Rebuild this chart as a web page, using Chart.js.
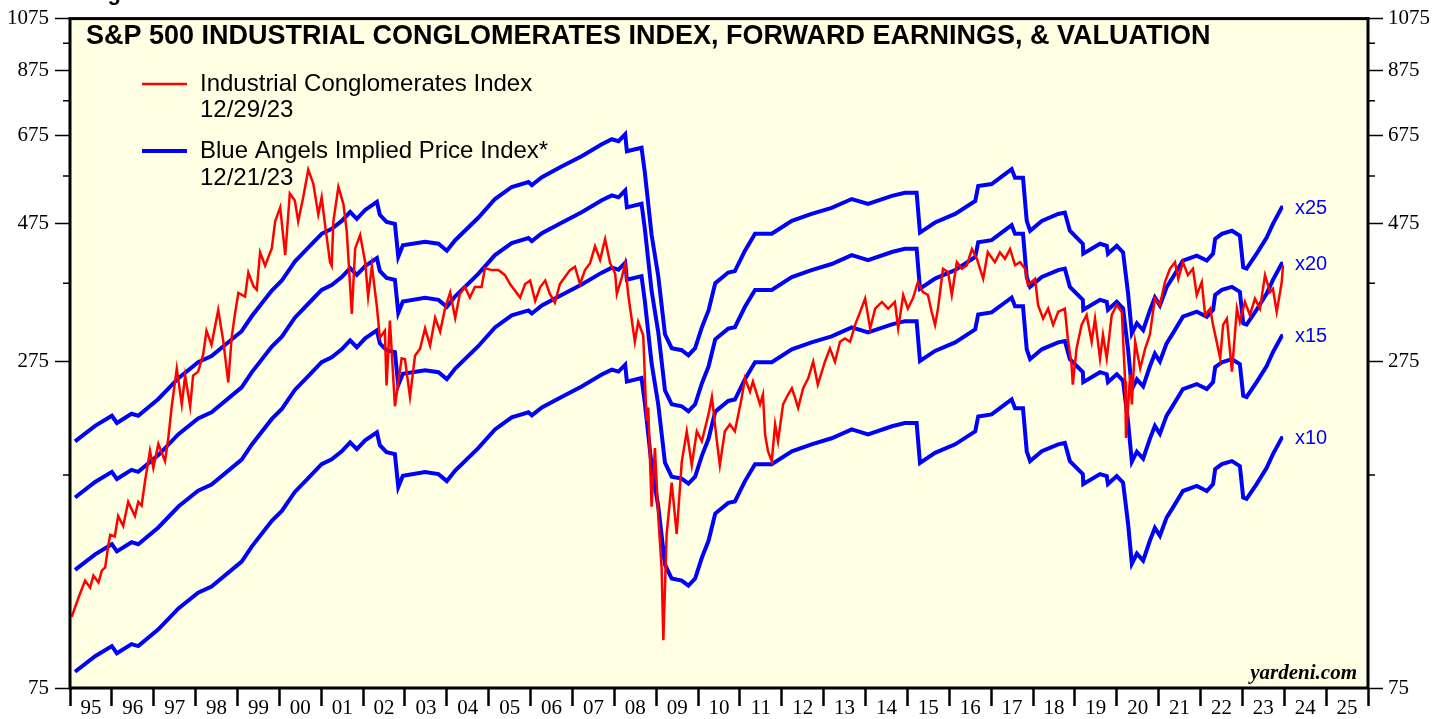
<!DOCTYPE html>
<html>
<head>
<meta charset="utf-8">
<title>S&amp;P 500 Industrial Conglomerates Index</title>
<script src="https://cdn.jsdelivr.net/npm/chart.js@4.4.0/dist/chart.umd.min.js"></script>
<style>
  html, body { margin: 0; padding: 0; background: #fff; }
  #wrap { width: 1448px; height: 719px; position: relative; }
</style>
</head>
<body>
<div id="wrap"><canvas id="chart"></canvas></div>
<script>
// Industrial Conglomerates Index (weekly)
const indexYears = [
  1995.04, 1995.20, 1995.36, 1995.48, 1995.56, 1995.68, 1995.76, 1995.84, 1995.91, 1995.96,
  1996.07, 1996.15, 1996.27, 1996.39, 1996.55, 1996.63, 1996.71, 1996.79, 1996.91, 1996.99,
  1997.11, 1997.27, 1997.35, 1997.43, 1997.55, 1997.67, 1997.75, 1997.87, 1997.94,
  1998.06, 1998.18, 1998.26, 1998.38, 1998.54, 1998.66, 1998.78, 1998.86, 1998.94,
  1999.02, 1999.18, 1999.26, 1999.38, 1999.46, 1999.54, 1999.66, 1999.82, 1999.90,
  2000.02, 2000.14, 2000.25, 2000.37, 2000.45, 2000.57, 2000.69, 2000.81, 2000.93,
  2001.01, 2001.09, 2001.21, 2001.25, 2001.29, 2001.41, 2001.53, 2001.61, 2001.73, 2001.81, 2001.93,
  2002.05, 2002.12, 2002.21, 2002.33, 2002.40, 2002.52, 2002.56, 2002.64, 2002.76, 2002.92,
  2003.00, 2003.12, 2003.24, 2003.36, 2003.48, 2003.60, 2003.72, 2003.84, 2003.96,
  2004.08, 2004.20, 2004.31, 2004.43, 2004.55, 2004.67, 2004.83, 2004.91,
  2005.07, 2005.23, 2005.39, 2005.51, 2005.63, 2005.75, 2005.87, 2005.99,
  2006.11, 2006.23, 2006.35, 2006.46, 2006.58, 2006.70, 2006.82, 2006.94,
  2007.06, 2007.18, 2007.30, 2007.42, 2007.54, 2007.66, 2007.78, 2007.90,
  2008.02, 2008.06, 2008.18, 2008.26, 2008.33, 2008.49, 2008.57, 2008.69, 2008.77, 2008.81, 2008.89, 2008.97,
  2009.05, 2009.13, 2009.17, 2009.25, 2009.37, 2009.49, 2009.61, 2009.73, 2009.85, 2009.97,
  2010.09, 2010.25, 2010.33, 2010.45, 2010.52, 2010.64, 2010.76, 2010.88,
  2011.04, 2011.12, 2011.24, 2011.31, 2011.48, 2011.55, 2011.60, 2011.67, 2011.76, 2011.84, 2011.91,
  2012.03, 2012.15, 2012.24, 2012.32, 2012.39, 2012.51, 2012.63, 2012.75, 2012.86,
  2013.03, 2013.15, 2013.27, 2013.39, 2013.51, 2013.63, 2013.75, 2013.87, 2013.99,
  2014.11, 2014.23, 2014.39, 2014.54, 2014.70, 2014.78, 2014.90,
  2015.01, 2015.13, 2015.25, 2015.37, 2015.49, 2015.58, 2015.66, 2015.73, 2015.85, 2015.97,
  2016.06, 2016.18, 2016.30, 2016.42, 2016.54, 2016.66, 2016.81, 2016.92,
  2017.09, 2017.21, 2017.33, 2017.45, 2017.57, 2017.69, 2017.81, 2017.88,
  2018.05, 2018.12, 2018.24, 2018.36, 2018.48, 2018.60, 2018.76, 2018.83, 2018.92, 2018.95,
  2019.04, 2019.16, 2019.28, 2019.40, 2019.48, 2019.60, 2019.67, 2019.76, 2019.88,
  2020.00, 2020.12, 2020.20, 2020.22, 2020.32, 2020.36, 2020.44, 2020.56, 2020.68, 2020.79, 2020.91,
  2021.03, 2021.15, 2021.27, 2021.39, 2021.47, 2021.58, 2021.70, 2021.82, 2021.91,
  2022.03, 2022.11, 2022.23, 2022.30, 2022.47, 2022.54, 2022.63, 2022.75, 2022.87, 2022.94,
  2023.06, 2023.18, 2023.30, 2023.42, 2023.54, 2023.66, 2023.73, 2023.82, 2023.94, 2023.97
];
const indexLevels = [
  99.5, 107.3, 115.0, 111.8, 117.3, 114.1, 119.6, 121.2, 131.6, 137.9,
  137.0, 148.7, 142.9, 157.2, 148.7, 157.2, 154.9, 170.4, 192.7, 180.0,
  198.0, 184.9, 203.5, 230.0, 267.1, 231.7, 259.9, 229.8, 259.9,
  264.0, 282.4, 310.5, 293.8, 337.4, 298.4, 253.0, 302.0, 332.1,
  360.9, 355.8, 391.4, 371.0, 365.6, 424.4, 402.2, 431.2, 479.8,
  507.2, 419.4, 536.1, 521.4, 479.8, 528.1, 589.4, 557.7, 493.4,
  528.1, 474.2, 408.0, 402.2, 479.8, 550.3, 514.1, 461.3, 332.1, 430.5, 454.7,
  408.0, 355.8, 402.2, 341.4, 302.0, 310.5, 249.8, 323.4, 230.0, 278.4,
  277.3, 238.7, 281.3, 289.1, 313.5, 292.9, 326.9, 309.3, 340.1,
  361.6, 326.9, 359.5, 369.6, 354.4, 369.6, 369.6, 398.4,
  395.3, 395.3, 387.5, 374.0, 364.2, 354.4, 374.0, 379.3,
  349.7, 369.6, 379.3, 359.5, 347.2, 374.0, 384.5, 395.3,
  400.6, 374.0, 395.3, 406.3, 434.6, 411.7, 446.9, 406.3,
  389.8, 359.5, 384.5, 406.3, 359.5, 297.3, 321.8, 305.0, 216.9, 228.9, 154.3, 194.7,
  148.2, 120.7, 90.7, 138.5, 169.7, 138.5, 184.2, 208.2, 182.0, 208.2,
  200.1, 222.9, 238.7, 200.1, 182.0, 208.2, 214.0, 208.2,
  237.5, 257.1, 243.9, 253.7, 231.7, 241.0, 205.7, 192.4, 184.9, 214.0, 200.1,
  231.7, 241.0, 247.1, 237.5, 228.3, 247.1, 257.1, 274.6, 250.7,
  274.6, 289.5, 274.6, 297.3, 301.2, 297.3, 317.9, 334.7, 352.9,
  313.4, 339.2, 348.3, 339.2, 348.3, 313.4, 358.0,
  339.2, 352.9, 377.0, 362.3, 358.0, 334.7, 317.9, 339.2, 397.4, 392.2,
  358.0, 408.0, 397.4, 403.2, 430.0, 413.3, 381.9, 424.4,
  408.0, 424.4, 413.3, 430.0, 403.2, 408.0, 397.4, 372.5,
  381.9, 344.1, 326.0, 339.2, 317.9, 334.7, 339.2, 301.2, 271.4, 250.7,
  289.5, 317.9, 330.8, 297.3, 326.0, 278.3, 305.6, 278.3, 330.8,
  344.1, 334.7, 253.7, 202.8, 260.9, 231.7, 297.3, 267.5, 289.5, 305.6, 352.9,
  344.1, 377.0, 397.4, 408.0, 381.9, 408.0, 387.5, 397.4, 358.0,
  377.0, 330.8, 339.2, 317.9, 278.3, 317.9, 326.0, 264.0, 339.2, 321.8,
  348.3, 330.8, 352.9, 339.2, 387.5, 362.3, 367.0, 334.7, 377.0, 402.7
];

// Forward earnings behind the Blue Angels lines (the x10 line divided by 10)
const earnYears = [
  1995.12, 1995.60, 1996.00, 1996.12, 1996.47, 1996.63, 1997.11, 1997.59, 1998.06, 1998.38,
  1999.10, 1999.34, 1999.82, 2000.06, 2000.37, 2000.69, 2001.01, 2001.25, 2001.49, 2001.69,
  2001.85, 2002.05, 2002.33, 2002.40, 2002.56, 2002.76, 2002.84, 2002.95, 2003.48, 2003.80,
  2004.00, 2004.20, 2004.75, 2005.15, 2005.55, 2005.95, 2006.03, 2006.27, 2006.74, 2007.22,
  2007.70, 2007.94, 2008.10, 2008.26, 2008.30, 2008.65, 2008.73, 2008.89, 2009.05, 2009.21,
  2009.37, 2009.61, 2009.77, 2009.93, 2010.09, 2010.25, 2010.41, 2010.72, 2010.88, 2011.12,
  2011.36, 2011.76, 2012.24, 2012.71, 2013.19, 2013.67, 2014.06, 2014.63, 2014.94, 2015.22,
  2015.30, 2015.66, 2016.14, 2016.62, 2016.69, 2017.01, 2017.33, 2017.49, 2017.57, 2017.76,
  2017.85, 2017.93, 2018.21, 2018.60, 2018.76, 2018.88, 2019.19, 2019.20, 2019.60, 2019.76,
  2019.79, 2020.00, 2020.15, 2020.27, 2020.36, 2020.48, 2020.63, 2020.79, 2020.91, 2021.03,
  2021.19, 2021.34, 2021.58, 2021.91, 2022.15, 2022.30, 2022.35, 2022.51, 2022.75, 2022.94,
  2023.02, 2023.10, 2023.34, 2023.58, 2023.73, 2023.94, 2023.97
];
const fwdEarnings = [
  8.00, 8.51, 8.86, 8.61, 8.93, 8.86, 9.47, 10.29, 10.96, 11.23,
  12.40, 13.16, 14.58, 15.17, 16.36, 17.29, 18.27, 18.63, 19.23, 19.93,
  19.39, 20.09, 20.74, 19.70, 19.16, 19.01, 16.68, 17.45, 17.70, 17.56,
  17.08, 17.81, 19.47, 20.98, 22.01, 22.45, 22.18, 22.89, 23.87, 24.88,
  26.09, 26.61, 26.40, 27.14, 25.37, 25.73, 23.26, 18.20, 15.43, 12.25,
  11.59, 11.50, 11.27, 11.59, 12.59, 13.47, 15.01, 15.66, 15.75, 17.08,
  18.27, 18.27, 19.23, 19.77, 20.25, 20.98, 20.57, 21.24, 21.51, 21.51,
  18.36, 19.11, 19.77, 20.82, 22.09, 22.27, 23.17, 23.63, 22.83, 22.83,
  19.23, 18.49, 19.23, 19.77, 19.88, 18.49, 17.56, 16.88, 17.56, 17.42,
  16.88, 17.42, 16.97, 14.41, 12.30, 12.80, 12.45, 13.47, 14.18, 13.74,
  14.77, 15.37, 16.42, 16.75, 16.42, 16.88, 17.91, 18.27, 18.49, 18.13,
  15.99, 15.91, 16.88, 18.00, 19.01, 20.28, 20.30
];
const multiples = [25, 20, 15, 10];

const yearLabels = ['95', '96', '97', '98', '99', '00', '01', '02', '03', '04', '05', '06', '07',
  '08', '09', '10', '11', '12', '13', '14', '15', '16', '17', '18', '19', '20', '21', '22', '23', '24', '25'];
const yTickValues = [75, 175, 275, 375, 475, 575, 675, 775, 875, 975, 1075];
const yLabelValues = [75, 275, 475, 675, 875, 1075];

const xTickValues = [];
for (let y = 1995; y <= 2026; y += 0.5) xTickValues.push(y);

const SANS = "'Liberation Sans', Arial, sans-serif";
const SERIF = "'Liberation Serif', 'Times New Roman', serif";

const datasets = [
  {
    label: 'Industrial Conglomerates Index',
    data: indexYears.map((t, i) => ({ x: t, y: indexLevels[i] })),
    borderColor: '#ff0000',
    borderWidth: 2.5,
    pointRadius: 0,
    tension: 0,
  },
];
multiples.forEach((m) => {
  datasets.push({
    label: 'x' + m,
    data: earnYears.map((t, i) => ({ x: t, y: fwdEarnings[i] * m })),
    borderColor: '#0000ff',
    borderWidth: 4,
    pointRadius: 0,
    tension: 0,
  });
});

const isMajorY = (v) => yLabelValues.includes(v);

function yAxis(pos) {
  return {
    type: 'logarithmic',
    position: pos,
    min: 75,
    max: 1075,
    afterBuildTicks: (s) => { s.ticks = yTickValues.map((v) => ({ value: v })); },
    afterFit: (s) => { s.width = pos === 'left' ? 70 : 80; },
    border: { display: false },
    grid: {
      drawOnChartArea: false,
      tickLength: 15,
      tickWidth: 1.5,
      tickColor: (c) => (c.tick && isMajorY(c.tick.value) ? '#000' : 'rgba(0,0,0,0)'),
    },
    ticks: {
      autoSkip: false,
      padding: pos === 'left' ? 6 : 5,
      color: '#000',
      font: { family: SERIF, size: 21 },
      callback: (v) => (isMajorY(v) ? String(v) : ''),
    },
  };
}

const decorations = {
  id: 'decorations',
  beforeDraw(chart) {
    const { ctx, chartArea: a } = chart;
    ctx.save();
    ctx.fillStyle = '#ffffe3';
    ctx.fillRect(a.left, a.top, a.right - a.left, a.bottom - a.top);
    ctx.restore();
  },
  afterDraw(chart) {
    const { ctx, chartArea: a, scales } = chart;
    ctx.save();

    // plot frame
    ctx.strokeStyle = '#000';
    ctx.lineWidth = 3;
    ctx.strokeRect(a.left, a.top, a.right - a.left, a.bottom - a.top);

    // minor y ticks (shorter than the labelled ones)
    ctx.lineWidth = 1.5;
    yTickValues.filter((v) => !isMajorY(v)).forEach((v) => {
      const py = scales.y.getPixelForValue(v);
      ctx.beginPath();
      ctx.moveTo(a.left - 7, py);
      ctx.lineTo(a.left, py);
      ctx.moveTo(a.right, py);
      ctx.lineTo(a.right + 7, py);
      ctx.stroke();
    });

    // cut-off figure caption at the very top
    ctx.fillStyle = '#000';
    ctx.font = 'bold 22px ' + SANS;
    ctx.textAlign = 'left';
    ctx.textBaseline = 'alphabetic';
    ctx.fillText('Figure 1.', 88, 0);

    // title
    ctx.font = 'bold 27px ' + SANS;
    ctx.textBaseline = 'middle';
    ctx.fillText('S&P 500 INDUSTRIAL CONGLOMERATES INDEX, FORWARD EARNINGS, & VALUATION', 86, 37);

    // legend
    ctx.lineCap = 'butt';
    ctx.strokeStyle = '#ff0000';
    ctx.lineWidth = 2.5;
    ctx.beginPath(); ctx.moveTo(142, 84); ctx.lineTo(187, 84); ctx.stroke();
    ctx.strokeStyle = '#0000ff';
    ctx.lineWidth = 4;
    ctx.beginPath(); ctx.moveTo(142, 151); ctx.lineTo(187, 151); ctx.stroke();
    ctx.font = '24px ' + SANS;
    ctx.fillStyle = '#000';
    ctx.fillText('Industrial Conglomerates Index', 200, 84);
    ctx.fillText('12/29/23', 200, 110);
    ctx.fillText('Blue Angels Implied Price Index*', 200, 151);
    ctx.fillText('12/21/23', 200, 178);

    // multiple labels at the line ends
    ctx.font = '20px ' + SANS;
    ctx.fillStyle = '#0000ff';
    const lastE = fwdEarnings[fwdEarnings.length - 1];
    multiples.forEach((m) => {
      ctx.fillText('x' + m, 1295, scales.y.getPixelForValue(lastE * m) + 1);
    });

    // source
    ctx.font = 'italic bold 21px ' + SERIF;
    ctx.fillStyle = '#000';
    ctx.textAlign = 'right';
    ctx.textBaseline = 'alphabetic';
    ctx.fillText('yardeni.com', 1357, 679);

    ctx.restore();
  },
};

new Chart(document.getElementById('chart'), {
  type: 'line',
  data: { datasets },
  options: {
    responsive: true,
    maintainAspectRatio: false,
    animation: false,
    devicePixelRatio: 1,
    layout: { padding: { top: 15, left: 0, right: 0, bottom: 0 } },
    plugins: {
      legend: { display: false },
      title: { display: false },
      tooltip: { enabled: false },
    },
    scales: {
      x: {
        type: 'linear',
        min: 1995,
        max: 2026,
        afterBuildTicks: (s) => { s.ticks = xTickValues.map((v) => ({ value: v })); },
        afterFit: (s) => { s.height = 31; },
        border: { display: false },
        grid: {
          drawOnChartArea: false,
          tickLength: 18,
          tickWidth: 2.5,
          tickColor: (c) => (c.tick && Number.isInteger(c.tick.value) ? '#000' : 'rgba(0,0,0,0)'),
        },
        ticks: {
          autoSkip: false,
          maxRotation: 0,
          padding: -10,
          color: '#000',
          font: { family: SERIF, size: 21 },
          callback: (v) => (Number.isInteger(v) ? '' : yearLabels[Math.floor(v) - 1995]),
        },
      },
      y: yAxis('left'),
      y2: yAxis('right'),
    },
  },
  plugins: [decorations],
});
</script>
</body>
</html>
